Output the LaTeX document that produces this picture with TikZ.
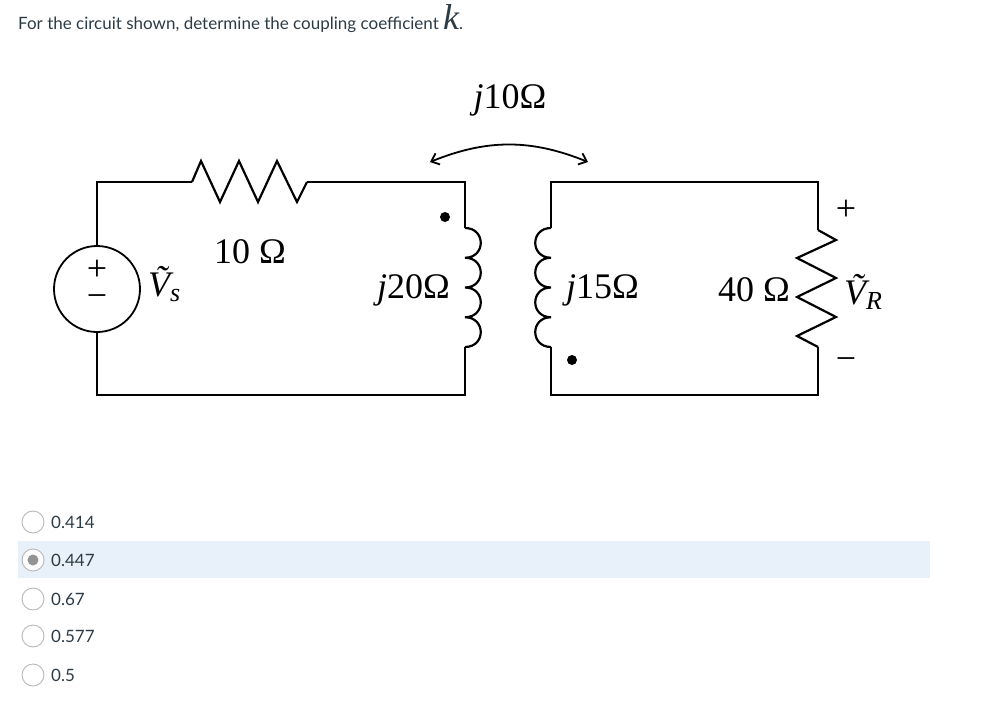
\documentclass[tikz,border=0pt]{standalone}
\usepackage{fontspec}
\setsansfont{Lato}
\newfontfamily\cf{Liberation Serif}
\usetikzlibrary{arrows.meta}
\definecolor{hl}{HTML}{E8F0FA}
\definecolor{rad}{HTML}{B8B8B8}
\definecolor{txt}{HTML}{2D3B45}
\begin{document}
\begin{tikzpicture}[x=1pt,y=-1pt,
  wire/.style={line width=1.3pt, line join=miter},
  comp/.style={line width=2.2pt, line join=miter},
  lab/.style={inner sep=0pt, font=\cf\fontsize{36}{38}\selectfont},
  opt/.style={anchor=west, font=\sffamily\fontsize{17}{20}\selectfont, text=txt, inner sep=0pt},
  radio/.style={circle, draw=rad, fill=white, line width=0.9pt, minimum size=22pt, inner sep=0pt}]
\useasboundingbox (0,0) rectangle (991,707);
\node[anchor=base west, font=\sffamily\fontsize{17}{20}\selectfont, text=txt, inner sep=0pt] (title) at (18,29) {For the circuit shown, determine the coupling coefficient {\cf\itshape\fontsize{36}{36}\selectfont k}.};
% left loop
\draw[wire] (97,247) -- (97,182) -- (192,182);
\draw[comp] (192,182) -- (201,161) -- (220,202) -- (239,161) -- (258,202) -- (277,161) -- (297,202) -- (307,182);
\draw[wire] (307,182) -- (465,182) -- (465,228);
\draw[comp] (465,228) \foreach \k in {0,1,2,3}{ .. controls (486,228+29.75*\k) and (486,228+29.75*\k+29.75) .. (465,228+29.75*\k+29.75)};
\draw[wire] (465,347) -- (465,395) -- (97,395) -- (97,332);
\node[circle, draw, line width=1.8pt, minimum size=86pt, inner sep=0pt] (src) at (97,289) {};
\node[lab] (plus1) at (97,270) {+};
\node[lab] (minus1) at (97,301) {−};
\node[lab, anchor=west] (vs) at (148,284) {\itshape\~V\raisebox{-5pt}{\fontsize{26}{26}\selectfont s}};
\node[lab] (r1) at (250,252) {10 Ω};
\node[lab, anchor=east] (l1) at (450,290) {\itshape j\upshape 20Ω};
\fill (445,217) circle (5pt);
% right loop
\draw[wire] (551,228) -- (551,182) -- (818,182) -- (818,230);
\draw[comp] (551,228) \foreach \k in {0,1,2,3}{ .. controls (530,228+29.75*\k) and (530,228+29.75*\k+29.75) .. (551,228+29.75*\k+29.75)};
\draw[wire] (551,347) -- (551,395) -- (818,395) -- (818,347);
\draw[comp] (818,230) -- (836,240) -- (797,258) -- (836,278) -- (797,297) -- (836,317) -- (797,336) -- (818,347);
\fill (572,360) circle (5pt);
\node[lab, anchor=west] (l2) at (566,290) {\itshape j\upshape 15Ω};
\node[lab, anchor=east] (r2) at (790,290) {40 Ω};
\node[lab] (p2) at (846,210) {+};
\node[lab] (m2) at (846,364) {−};
\node[lab, anchor=west] (vr) at (844,292) {\itshape\~V\raisebox{-5pt}{\fontsize{26}{26}\selectfont R}};
% mutual
\coordinate (ma) at (430,162);
\coordinate (mb) at (588,162);
\draw[line width=1.8pt, {Straight Barb[length=7pt,width=12pt]}-{Straight Barb[length=7pt,width=12pt]}] (ma) to[bend left=22] (mb);
\node[lab] (m) at (510,100) {\itshape j\upshape 10Ω};
% options
\fill[hl] (18,541) rectangle (930,578);
\foreach \y/\t/\n in {522/0.414/a,560/0.447/b,599/0.67/c,636/0.577/d,675/0.5/e}{
  \node[radio] (c\n) at (33,\y) {};
  \node[opt] (o\n) at (51,\y) {\t};
}
\fill[rad!80!black] (cb) circle (5.5pt);
\end{tikzpicture}
\end{document}
